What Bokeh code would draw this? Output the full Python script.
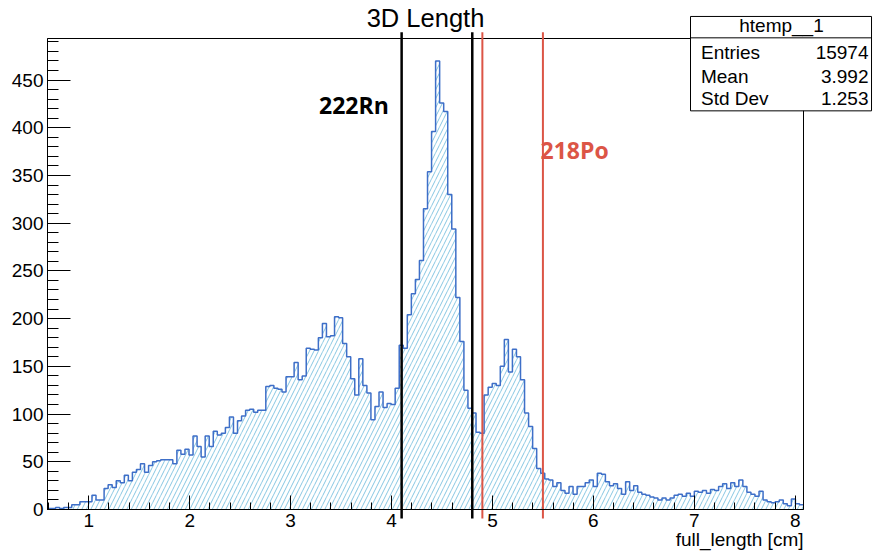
from bokeh.plotting import figure
from bokeh.models import Range1d, SingleIntervalTicker, Label
from bokeh.embed import file_html
from bokeh.resources import INLINE
import numpy as np

# Histogram binning of full_length [cm]
bin_lo = 0.591
bin_hi = 8.082
counts = [
    1, 1, 2, 1, 2, 2, 5, 5, 8, 8,
    8, 15, 10, 10, 22, 26, 23, 30, 28, 36,
    30, 39, 42, 48, 39, 46, 50, 51, 52, 52,
    52, 48, 62, 58, 63, 57, 77, 66, 55, 77,
    66, 82, 78, 80, 86, 97, 80, 93, 98, 104,
    105, 102, 104, 104, 129, 130, 127, 126, 123, 139,
    139, 154, 136, 140, 169, 168, 167, 180, 195, 181,
    182, 202, 201, 174, 160, 137, 120, 158, 130, 122,
    94, 108, 123, 107, 111, 110, 127, 172, 169, 204,
    226, 241, 261, 315, 354, 396, 470, 426, 417, 330,
    294, 222, 176, 125, 106, 101, 81, 80, 120, 128,
    132, 130, 150, 178, 144, 168, 160, 136, 101, 87,
    64, 43, 38, 32, 31, 24, 28, 20, 17, 24,
    16, 24, 24, 28, 31, 24, 38, 37, 29, 25,
    27, 22, 16, 29, 20, 25, 18, 16, 15, 13,
    12, 10, 12, 10, 12, 15, 16, 14, 17, 14,
    19, 18, 20, 17, 21, 20, 24, 27, 22, 28,
    24, 31, 24, 18, 16, 14, 19, 10, 8, 7,
    8, 10, 6, 4, 11, 6, 5,
]
edges = np.linspace(bin_lo, bin_hi, len(counts) + 1)
y_max = 1.05 * max(counts)

# Selection lines
rn_cuts = [4.1, 4.8]
po_cuts = [4.9, 5.5]
cut_y = [-9.4, 500.1]

# Stats box content
stats_name = "htemp__1"
stats_keys = ["Entries", "Mean", "Std Dev"]
stats_vals = ["15974", "3.992", "1.253"]

# Page geometry (pixels): the histogram frame sits inside a full-canvas plot
W, H = 873, 551
FL, FR, FT, FB = 47, 803, 38, 509
sx = (FR - FL) / (bin_hi - bin_lo)
sy = (FB - FT) / y_max
x_range = Range1d(bin_lo - FL / sx, bin_hi + (W - FR) / sx)
y_range = Range1d(-(H - FB) / sy, y_max + FT / sy)

FONT = "Liberation Sans"
HIST_LINE = "#3e6fc8"
HATCH = "#86c6e2"
RED = "#dc5546"

p = figure(width=W, height=H, title=None, x_range=x_range, y_range=y_range,
           output_backend="svg", toolbar_location=None,
           min_border_left=0, min_border_right=0,
           min_border_top=0, min_border_bottom=0)
p.background_fill_color = "white"
p.border_fill_color = "white"
p.outline_line_color = None
p.xgrid.visible = False
p.ygrid.visible = False

# hatched bars and step outline
p.quad(left=edges[:-1], right=edges[1:], bottom=0, top=counts,
       fill_color=None, line_color=None,
       hatch_pattern="/", hatch_color=HATCH, hatch_scale=9, hatch_weight=1)
p.step(x=edges, y=counts + [counts[-1]], mode="after",
       line_color=HIST_LINE, line_width=1.5)

# frame box
p.quad(left=bin_lo, right=bin_hi, bottom=0, top=y_max,
       fill_color=None, line_color="black", line_width=1)

# axes pinned to the frame edges, ticks drawn inward
p.xaxis.fixed_location = 0
p.yaxis.fixed_location = bin_lo
p.xaxis.bounds = (bin_lo, bin_hi)
p.yaxis.bounds = (0, y_max)
p.xaxis.ticker = SingleIntervalTicker(interval=1, num_minor_ticks=5)
p.yaxis.ticker = SingleIntervalTicker(interval=50, num_minor_ticks=5)
for ax, tin in ((p.xaxis, 14), (p.yaxis, 23)):
    ax.major_tick_in = tin
    ax.major_tick_out = 0
    ax.minor_tick_in = tin // 2
    ax.minor_tick_out = 0
    ax.axis_line_color = "black"
    ax.major_tick_line_color = "black"
    ax.minor_tick_line_color = "black"
    ax.major_label_text_font = FONT
    ax.major_label_text_font_size = "19px"
    ax.major_label_text_color = "black"
p.xaxis.major_label_standoff = 4
p.yaxis.major_label_standoff = 4

# title and x-axis title
p.add_layout(Label(x=(bin_lo + bin_hi) / 2, y=515.2, text="3D Length",
                   text_align="center", text_baseline="alphabetic",
                   text_font=FONT, text_font_size="25.5px", text_color="black"))
p.add_layout(Label(x=bin_hi, y=-31.5, text="full_length [cm]",
                   text_align="right", text_baseline="alphabetic",
                   text_font=FONT, text_font_size="19px", text_color="black"))

# selection lines
p.segment(x0=rn_cuts, y0=cut_y[0], x1=rn_cuts, y1=cut_y[1],
          line_color="black", line_width=2.5)
p.segment(x0=po_cuts, y0=cut_y[0], x1=po_cuts, y1=cut_y[1],
          line_color=RED, line_width=2)

p.add_layout(Label(x=3.973, y=423.3, text="222Rn", text_align="right",
                   text_baseline="alphabetic", text_font="Open Sans",
                   text_font_style="bold", text_font_size="23px", text_color="black"))
p.add_layout(Label(x=5.476, y=376.2, text="218Po", text_align="left",
                   text_baseline="alphabetic", text_font="Open Sans",
                   text_font_style="bold", text_font_size="23px", text_color=RED))

# stats box
bx0, bx1, by0, by1, bhead = 6.9624, 8.756, 417.7, 516.6, 494.2
p.quad(left=bx0, right=bx1, bottom=by0, top=by1,
       fill_color="white", line_color="black", line_width=1)
p.segment(x0=bx0, y0=bhead, x1=bx1, y1=bhead, line_color="black", line_width=1)
p.add_layout(Label(x=7.864, y=507.0, text=stats_name, text_align="center",
                   text_baseline="alphabetic", text_font=FONT,
                   text_font_size="19px", text_color="black"))
row_y = [478.8, 454.2, 430.2]
for key, val, ry in zip(stats_keys, stats_vals, row_y):
    p.add_layout(Label(x=7.066, y=ry, text=key, text_align="left",
                       text_baseline="alphabetic", text_font=FONT,
                       text_font_size="19px", text_color="black"))
    p.add_layout(Label(x=8.726, y=ry, text=val, text_align="right",
                       text_baseline="alphabetic", text_font=FONT,
                       text_font_size="19px", text_color="black"))

open("out.html", "w").write(file_html(p, INLINE))
